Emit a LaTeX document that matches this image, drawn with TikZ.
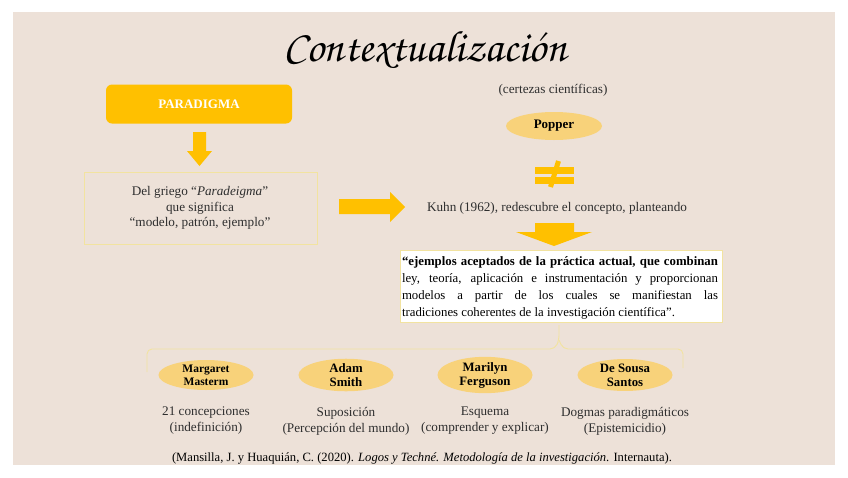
\documentclass[tikz,border=0pt]{standalone}
\usepackage{fontspec}
\setmainfont{Liberation Serif}
\usepackage[T1,TU]{fontenc}
\usetikzlibrary{shapes.geometric}
\definecolor{bgpanel}{HTML}{EDE1D8}
\definecolor{gold}{HTML}{FFC000}
\definecolor{ellfill}{HTML}{F8D27A}
\definecolor{paleline}{HTML}{F2E3A0}
\definecolor{txt}{HTML}{2E2E2E}
\newcommand{\mytitlefont}{\fontencoding{T1}\fontfamily{pzc}\fontseries{mb}\fontshape{it}\selectfont}
\tikzset{
  plain/.style={font=\fontsize{13.2}{15.5}\selectfont, text=txt, align=center, inner sep=0pt},
  person/.style={ellipse, fill=ellfill, minimum width=95pt, minimum height=30pt, inner sep=0pt, align=center, font=\bfseries\fontsize{12.8}{14}\selectfont, text=black},
  blockarrow/.style={fill=gold, draw=none},
  faintbox/.style={draw=paleline, line width=0.8pt}
}
\begin{document}
\begin{tikzpicture}[x=1pt,y=-1pt]
\useasboundingbox (0,0) rectangle (848,477);
\fill[white] (0,0) rectangle (848,477);
\fill[bgpanel] (13,12) rectangle (835,465);
% title
\node (title) at (425,50) {\fontsize{44}{44}\mytitlefont Contextualización};
% PARADIGMA
\node[fill=gold, rounded corners=6pt, minimum width=186pt, minimum height=39pt, text=white, font=\bfseries\fontsize{13}{14}\selectfont] (para) at (199,104) {PARADIGMA};
\fill[blockarrow] (193,132) -- (206,132) -- (206,151) -- (212,151) -- (199.5,166) -- (187,151) -- (193,151) -- cycle;
% Del griego box
\node[faintbox, minimum width=233pt, minimum height=72pt] (griego) at (200.5,208) {};
\node[plain] (griegotxt) at (200,208) {Del griego “\textit{Paradeigma}”\\que significa\\“modelo, patrón, ejemplo”};
% right arrow
\fill[blockarrow] (339,199) -- (390,199) -- (390,192) -- (405,207) -- (390,222) -- (390,214) -- (339,214) -- cycle;
% right column
\node[plain] (certezas) at (553,90) {(certezas científicas)};
\node[person, minimum width=96pt, minimum height=28pt, font=\bfseries\fontsize{13}{14}\selectfont] (popper) at (554,126) {Popper};
% not-equal sign
\fill[blockarrow] (535,167) rectangle (574,174);
\fill[blockarrow] (535,177) rectangle (574,184);
\draw[gold, line width=5pt] (558.5,161) -- (550.5,187);
\node[plain] (kuhn) at (557,208) {Kuhn (1962), redescubre el concepto, planteando};
\fill[blockarrow] (535,223) -- (574,223) -- (574,232) -- (592,232) -- (554,246) -- (516,232) -- (535,232) -- cycle;
% quote box
\node[faintbox, fill=white, minimum width=322pt, minimum height=72pt] (quote) at (561,286) {};
\node[inner sep=0pt, text=black] (quotetxt) at (560,288) {\parbox{316pt}{\fontsize{12.8}{16.8}\selectfont
\textbf{“ejemplos aceptados de la práctica actual, que combinan}\linebreak
ley, teoría, aplicación e instrumentación y proporcionan\linebreak
modelos a partir de los cuales se manifiestan las\linebreak
tradiciones coherentes de la investigación científica”.}};
% brace
\coordinate (bl) at (147,372);
\coordinate (br) at (683,368);
\draw[paleline, line width=0.9pt, rounded corners=5pt] (bl) -- (147,349) -- (555,349) -- (559,340) -- (559,325);
\draw[paleline, line width=0.9pt, rounded corners=5pt] (559,340) -- (563,349) -- (683,349) -- (br);
% persons
\node[person, font=\bfseries\fontsize{11.5}{13}\selectfont] (marg) at (206,375) {Margaret\\Masterm};
\node[person] (adam) at (346,375) {Adam\\Smith};
\node[person] (maril) at (485,375) {Marilyn\\Ferguson};
\node[person] (sousa) at (625,375) {De Sousa\\Santos};
\node[plain, font=\fontsize{13.2}{16}\selectfont] (t1) at (206,421) {21 concepciones\\(indefinición)};
\node[plain, font=\fontsize{13.2}{16}\selectfont] (t2) at (346,421) {Suposición\\(Percepción del mundo)};
\node[plain, font=\fontsize{13.2}{16}\selectfont] (t3) at (485,421) {Esquema\\(comprender y explicar)};
\node[plain, font=\fontsize{13.2}{16}\selectfont] (t4) at (625,421) {Dogmas paradigmáticos\\(Epistemicidio)};
% citation
\node[plain, text=black, font=\fontsize{12.6}{14}\selectfont] (cite) at (422,458) {(Mansilla, J. y Huaquián, C. (2020). \textit{Logos y Techné. Metodología de la investigación}. Internauta).};
\end{tikzpicture}
\end{document}
